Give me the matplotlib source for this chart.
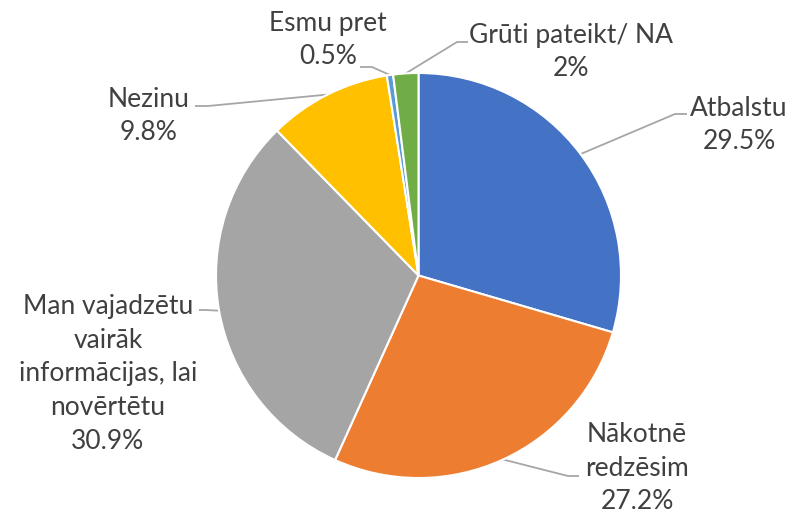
import numpy as np
import matplotlib
matplotlib.use("Agg")
import matplotlib.pyplot as plt

categories = ["Atbalstu", "Nākotnē\nredzēsim", "Man vajadzētu\nvairāk\ninformācijas, lai\nnovērtētu",
              "Nezinu", "Esmu pret", "Grūti pateikt/ NA"]
values = [29.5, 27.2, 30.9, 9.8, 0.5, 2.0]
value_labels = ["29.5%", "27.2%", "30.9%", "9.8%", "0.5%", "2%"]
colors = ["#4472C4", "#ED7D31", "#A5A5A5", "#FFC000", "#5B9BD5", "#70AD47"]

W, H = 792, 514
fig = plt.figure(figsize=(W / 100, H / 100), dpi=100)
ax = fig.add_axes([0, 0, 1, 1])

cx, cy, R = 418.5, H - 275.5, 202.5
wedges, _ = ax.pie(values, colors=colors, startangle=90, counterclock=False,
                   center=(cx, cy), radius=R, frame=True,
                   wedgeprops=dict(edgecolor="white", linewidth=1.5))
ax.set_xlim(0, W)
ax.set_ylim(0, H)
ax.set_aspect("equal")
ax.axis("off")

# label layout (pixel coords, top-left origin): text center, leader elbow, leader end
label_pos = [(739, 125), (637, 468), (108, 374), (149, 116), (328, 40), (571, 52)]
elbows = [(675, 114), (568, 476), (205, 310), (208, 106), (372, 67), (457, 42)]
ends = [(687, 114), (579, 476), (199, 310), (195, 106), (360, 67), (468, 42)]

for w, cat, vl, lp, el, en in zip(wedges, categories, value_labels, label_pos, elbows, ends):
    ang = np.deg2rad((w.theta1 + w.theta2) / 2)
    px, py = cx + R * np.cos(ang), cy + R * np.sin(ang)
    ax.plot([px, el[0], en[0]], [py, H - el[1], H - en[1]], color="#A6A6A6", lw=1.3,
            solid_capstyle="butt", zorder=0)
    ax.text(lp[0], H - lp[1], cat + "\n" + vl, ha="center", va="center",
            fontsize=19, family="Lato", color="#404040", linespacing=1.43)

fig.savefig("out.png", dpi=100)
